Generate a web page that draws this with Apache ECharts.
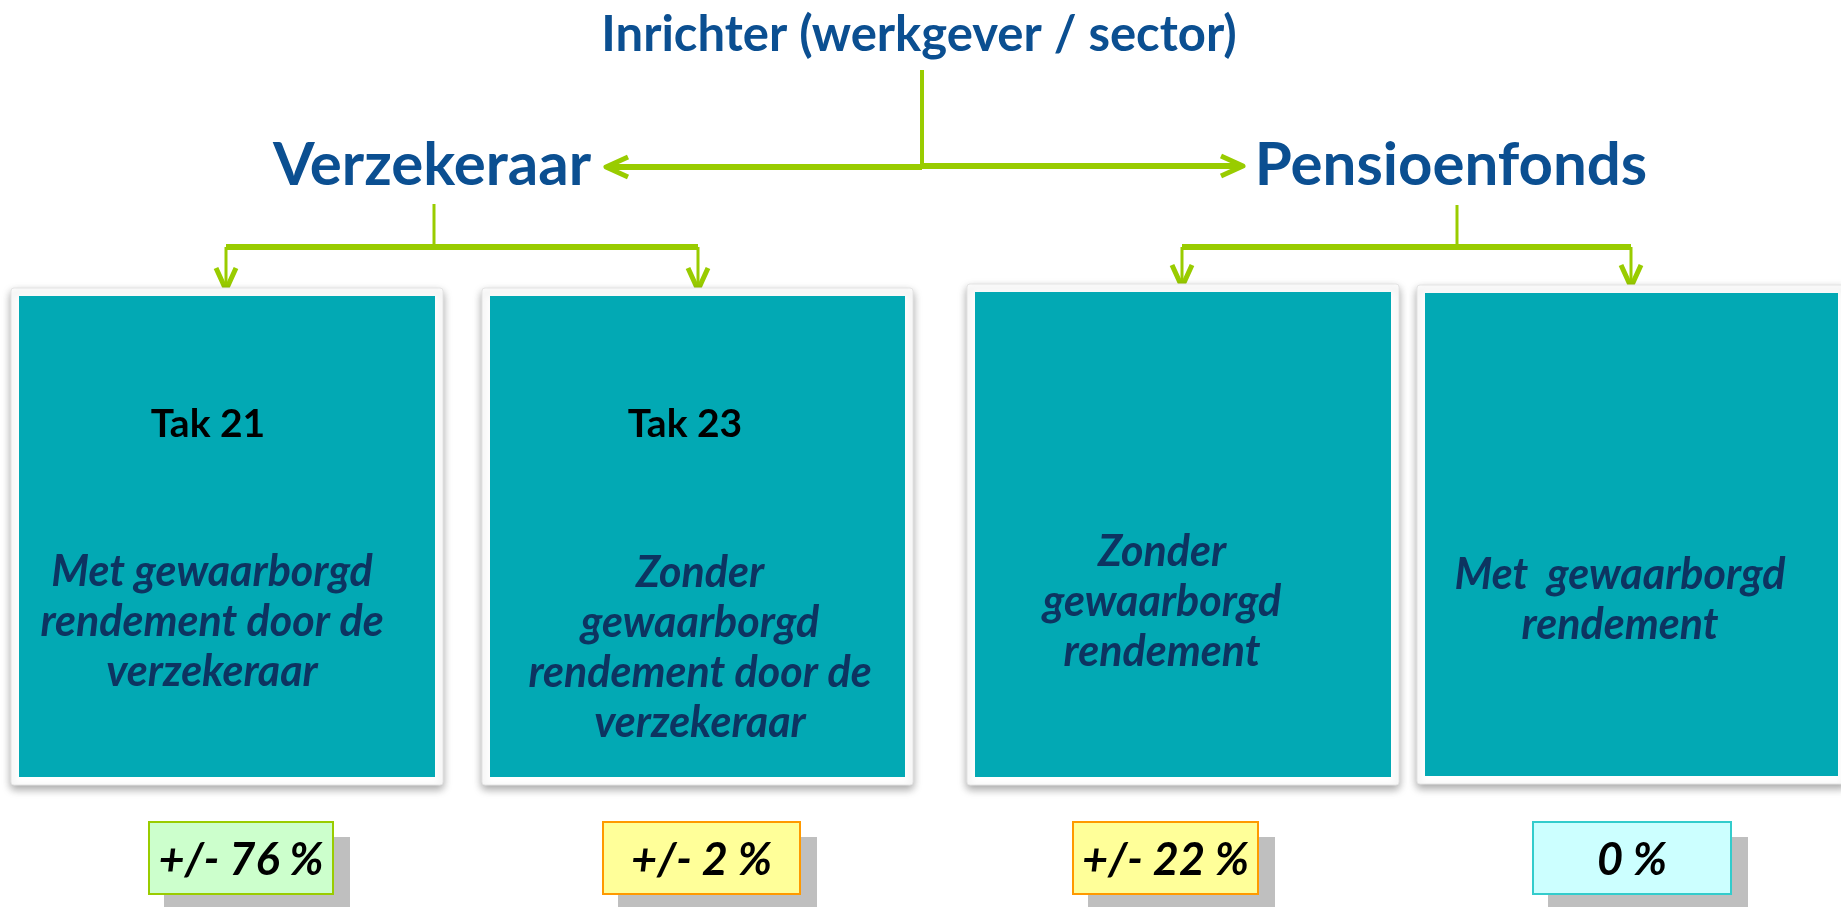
<!DOCTYPE html>
<html>
<head>
<meta charset="utf-8">
<script src="https://cdn.jsdelivr.net/npm/echarts@6/dist/echarts.min.js"></script>
<style>
html, body { margin: 0; padding: 0; background: #fff; }
#chart { width: 1841px; height: 907px; }
</style>
</head>
<body>
<div id="chart"></div>
<script>
// data
var rootLabel = 'Inrichter (werkgever / sector)';
var branchLabels = ['Verzekeraar', 'Pensioenfonds'];
var boxTitles = ['Tak 21', 'Tak 23', '', ''];
var boxTexts = [
    ['Met gewaarborgd', 'rendement door de', 'verzekeraar'],
    ['Zonder', 'gewaarborgd', 'rendement door de', 'verzekeraar'],
    ['Zonder', 'gewaarborgd', 'rendement'],
    ['Met  gewaarborgd', 'rendement']
];
var shareValues = [76, 2, 22, 0];
var shareApprox = [true, true, true, false];

// layout / style
var FONT = 'Lato, "Open Sans", sans-serif';
var GREEN = '#99CC00';
var TEAL = '#02A9B4';
var NAVY = '#0D3461';
var BLUE = '#0B4F91';

var panels = [
    {x: 19, y: 296, w: 416, h: 481, tx: 212, ty: 622, hx: 208},
    {x: 490, y: 296, w: 415, h: 481, tx: 700, ty: 648, hx: 685},
    {x: 975, y: 292, w: 416, h: 485, tx: 1162, ty: 602},
    {x: 1425, y: 293, w: 413, h: 483, tx: 1620, ty: 600}
];
var shareBoxes = [
    {x: 149, w: 184, fill: '#CCFFCC', stroke: '#99CC00'},
    {x: 603, w: 197, fill: '#FFFF99', stroke: '#FF9900'},
    {x: 1073, w: 185, fill: '#FFFF99', stroke: '#FF9900'},
    {x: 1533, w: 198, fill: '#CCFFFF', stroke: '#33CCCC'}
];
var branchGeo = [
    {x: 434, top: 204, y: 247, tip: 290, kids: [226, 698], cx: 432},
    {x: 1457, top: 205, y: 247, tip: 287, kids: [1182, 1631], cx: 1451}
];

var chart = echarts.init(document.getElementById('chart'), null, {renderer: 'canvas'});
var els = [];

function line(points, w) {
    els.push({
        type: 'polyline',
        shape: {points: points},
        style: {stroke: GREEN, lineWidth: w, fill: null, lineCap: 'butt', lineJoin: 'round'}
    });
}

function head(tx, ty, dx, dy) {
    // open chevron, (dx,dy) = direction of travel
    var len = 22, half = 10;
    var bx = tx - dx * len, by = ty - dy * len;
    line([[bx - dy * half, by + dx * half], [tx, ty], [bx + dy * half, by - dx * half]], 5);
}

function text(str, x, y, size, color, weight, style) {
    els.push({
        type: 'text',
        x: x, y: y,
        style: {
            text: str, fill: color, align: 'center', verticalAlign: 'middle',
            font: (style || 'normal') + ' ' + (weight || 'bold') + ' ' + size + 'px ' + FONT
        }
    });
}

// root
text(rootLabel, 919, 35, 49, BLUE);
line([[922, 70], [922, 167]], 4);
line([[922, 167], [610, 167]], 6);
line([[922, 166], [1239, 166]], 6);
head(606, 167, -1, 0);
head(1243, 166, 1, 0);

// branches
branchGeo.forEach(function (b, i) {
    text(branchLabels[i], b.cx, 166, 60, BLUE);
    line([[b.x, b.top], [b.x, b.y]], 3);
    line([[b.kids[0], b.y], [b.kids[1], b.y]], 6);
    b.kids.forEach(function (k) {
        line([[k, b.y], [k, b.tip - 3]], 3);
        head(k, b.tip, 0, 1);
    });
});

// panels
panels.forEach(function (p, i) {
    els.push({
        type: 'rect',
        shape: {x: p.x - 8, y: p.y - 8, width: p.w + 16, height: p.h + 16, r: 3},
        style: {fill: '#fff', stroke: '#e4e4e4', lineWidth: 1,
            shadowBlur: 8, shadowOffsetY: 4, shadowColor: 'rgba(0,0,0,0.35)'}
    });
    els.push({
        type: 'rect',
        shape: {x: p.x, y: p.y, width: p.w, height: p.h},
        style: {fill: TEAL}
    });
    if (boxTitles[i]) text(boxTitles[i], p.hx, 424, 39, '#000');
    var lines = boxTexts[i];
    var lh = 50;
    lines.forEach(function (s, j) {
        text(s, p.tx, p.ty + (j - (lines.length - 1) / 2) * lh, 43, NAVY, 'bold', 'italic');
    });
});

// share boxes
shareBoxes.forEach(function (s, i) {
    var h = 72, y = 822;
    els.push({type: 'rect', shape: {x: s.x + 15, y: y + 15, width: s.w + 2, height: h},
        style: {fill: '#BFBFBF'}});
    els.push({type: 'rect', shape: {x: s.x, y: y, width: s.w, height: h},
        style: {fill: s.fill, stroke: s.stroke, lineWidth: 2}});
    var lbl = (shareApprox[i] ? '+/- ' : '') + shareValues[i] + ' %';
    text(lbl, s.x + s.w / 2, y + h / 2 + 2, 45, '#000', 'bold', 'italic');
});

chart.setOption({
    animation: false,
    graphic: {elements: els}
});
</script>
</body>
</html>
